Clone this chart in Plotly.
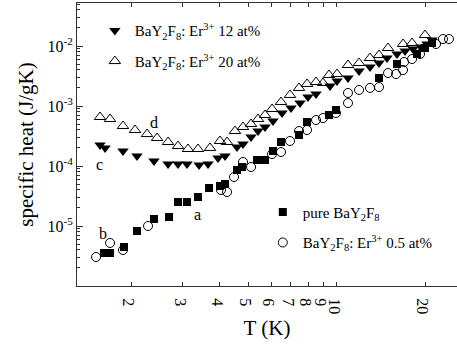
import plotly.graph_objects as go

# Specific heat of BaY2F8 crystals, pure and Er3+-doped
T_12 = [1.569, 1.632, 1.878, 2.096, 2.394, 2.673, 2.890, 3.101, 3.407, 3.656, 3.953, 4.176,
        4.587, 4.808, 5.120, 5.408, 5.713, 6.081, 6.526, 7.002, 7.514, 7.998, 8.517, 9.505,
        10.04, 10.94, 11.93, 13.0, 13.95, 14.85, 16.06, 17.10, 18.20, 19.38, 20.32, 21.13]
C_12 = [2.24e-4, 2.0e-4, 1.78e-4, 1.47e-4, 1.21e-4, 1.08e-4, 1.08e-4, 1.08e-4, 1.04e-4, 1.08e-4,
        1.36e-4, 1.47e-4, 2.07e-4, 2.33e-4, 3.04e-4, 3.83e-4, 4.47e-4, 5.62e-4, 7.64e-4, 9.26e-4,
        1.12e-3, 1.41e-3, 1.58e-3, 2.15e-3, 2.61e-3, 2.93e-3, 3.83e-3, 4.47e-3, 5.21e-3, 6.31e-3,
        7.36e-3, 8.25e-3, 8.91e-3, 9.62e-3, 1.08e-2, 1.259e-2]

T_20 = [1.569, 1.697, 1.878, 2.064, 2.267, 2.452, 2.673, 2.890, 3.125, 3.380, 3.713, 4.015,
        4.242, 4.516, 4.808, 5.120, 5.408, 5.713, 6.035, 6.475, 6.947, 7.455, 7.937, 8.517,
        8.997, 9.43, 10.04, 10.94, 11.93, 13.0, 13.95, 14.97, 16.84, 18.07, 20.0]
C_20 = [6.56e-4, 6.07e-4, 4.64e-4, 3.98e-4, 3.41e-4, 2.93e-4, 2.51e-4, 2.15e-4, 1.92e-4, 1.92e-4,
        2.0e-4, 2.61e-4, 2.51e-4, 3.83e-4, 4.47e-4, 5.01e-4, 6.07e-4, 7.08e-4, 8.91e-4, 1.166e-3,
        1.53e-3, 2.0e-3, 2.33e-3, 2.51e-3, 2.42e-3, 3.29e-3, 3.41e-3, 4.82e-3, 5.21e-3, 6.31e-3,
        7.08e-3, 9.26e-3, 1.08e-2, 1.122e-2, 1.525e-2]

T_pure = [1.619, 1.697, 1.893, 2.096, 2.394, 2.694, 2.890, 3.101, 3.380, 3.685, 4.015, 4.176,
          4.587, 4.771, 5.366, 5.713, 6.081, 6.475, 7.455, 7.937, 9.43, 9.961, 13.95, 16.06,
          18.79, 20.0, 21.13]
C_pure = [3.55e-6, 3.55e-6, 4.47e-6, 8.25e-6, 1.31e-5, 1.41e-5, 2.51e-5, 2.51e-5, 3.04e-5, 4.30e-5,
          4.64e-5, 5.01e-5, 8.58e-5, 9.62e-5, 1.26e-4, 1.26e-4, 1.78e-4, 2.51e-4, 3.29e-4, 5.41e-4,
          7.08e-4, 8.58e-4, 2.93e-3, 5.01e-3, 7.36e-3, 9.26e-3, 1.122e-2]

T_05 = [1.521, 1.697, 1.878, 2.285, 4.047, 4.242, 4.481, 4.808, 5.120, 6.035, 6.475, 6.947,
        7.455, 7.937, 8.517, 8.997, 9.961, 10.94, 10.94, 11.93, 13.0, 13.95, 14.97, 15.94,
        16.84, 16.97, 18.07, 19.23, 21.80, 23.02, 24.13]
C_05 = [3.04e-6, 5.21e-6, 3.98e-6, 1.0e-5, 3.98e-5, 3.69e-5, 6.56e-5, 1.166e-4, 9.62e-5, 1.58e-4,
        1.71e-4, 2.61e-4, 3.83e-4, 3.98e-4, 5.84e-4, 6.31e-4, 7.64e-4, 1.65e-3, 1.12e-3, 1.85e-3,
        2.0e-3, 2.07e-3, 3.55e-3, 3.41e-3, 3.98e-3, 5.41e-3, 6.07e-3, 7.36e-3, 1.08e-2, 1.308e-2,
        1.308e-2]

X_TICKS = [2, 3, 4, 5, 6, 7, 8, 9, 10, 20]
Y_TICKS = [1e-6, 1e-5, 1e-4, 1e-3, 1e-2]
Y_TICKTEXT = ["", "10<sup>-5</sup>", "10<sup>-4</sup>", "10<sup>-3</sup>", "10<sup>-2</sup>"]

LBL_12 = "BaY<sub>2</sub>F<sub>8</sub>: Er<sup>3+</sup> 12 at%"
LBL_20 = "BaY<sub>2</sub>F<sub>8</sub>: Er<sup>3+</sup> 20 at%"
LBL_PURE = "pure BaY<sub>2</sub>F<sub>8</sub>"
LBL_05 = "BaY<sub>2</sub>F<sub>8</sub>: Er<sup>3+</sup> 0.5 at%"

SERIF = "Liberation Serif, Times New Roman, serif"
INK = "black"

fig = go.Figure()
fig.add_trace(go.Scatter(x=T_12, y=C_12, mode="markers", name=LBL_12, legend="legend",
                         legendgroup="a",
                         marker=dict(symbol="triangle-down", size=10, color=INK)))
fig.add_trace(go.Scatter(x=T_20, y=C_20, mode="markers", name=LBL_20, legend="legend",
                         legendgroup="b",
                         marker=dict(symbol="triangle-up-open", size=10, color=INK,
                                     line=dict(width=1, color=INK))))
fig.add_trace(go.Scatter(x=T_pure, y=C_pure, mode="markers", name=LBL_PURE, legend="legend2",
                         legendgroup="c",
                         marker=dict(symbol="square", size=8, color=INK)))
fig.add_trace(go.Scatter(x=T_05, y=C_05, mode="markers", name=LBL_05, legend="legend2",
                         legendgroup="d",
                         marker=dict(symbol="circle-open", size=9, color=INK,
                                     line=dict(width=1, color=INK))))

# curve labels
for txt, lx, ly in [("a", 0.5255, -4.80), ("b", 0.2058, -5.133),
                    ("c", 0.1922, -3.983), ("d", 0.3792, -3.267)]:
    fig.add_annotation(x=lx, y=ly, xref="x", yref="y", text=txt, showarrow=False,
                       font=dict(family=SERIF, size=16, color=INK))

legend_common = dict(font=dict(family=SERIF, size=15, color=INK), bgcolor="rgba(0,0,0,0)",
                     borderwidth=0, xanchor="left", yanchor="top", tracegroupgap=8,
                     itemsizing="trace", itemwidth=30)

fig.update_layout(
    width=457, height=347,
    margin=dict(l=77, r=0, t=3, b=61),
    paper_bgcolor="white", plot_bgcolor="white",
    font=dict(family=SERIF, color=INK),
    showlegend=True,
    legend=dict(x=0.047, y=0.96, **legend_common),
    legend2=dict(x=0.489, y=0.319, **legend_common),
    xaxis=dict(
        type="log", range=[0.1173, 1.4098],
        tickvals=X_TICKS, ticktext=[str(v) for v in X_TICKS],
        ticks="inside", ticklen=4, tickcolor="#333", showline=True, linecolor="#333",
        linewidth=1, mirror="ticks", showgrid=False, zeroline=False,
        tickfont=dict(family=SERIF, size=16, color=INK),
        title=dict(text="T (K)", font=dict(family=SERIF, size=21, color=INK), standoff=7),
    ),
    yaxis=dict(
        type="log", range=[-6.0, -1.283],
        tickvals=Y_TICKS, ticktext=Y_TICKTEXT,
        ticks="inside", ticklen=6, tickcolor="#333", showline=True, linecolor="#333",
        linewidth=1, mirror=False, showgrid=False, zeroline=False,
        tickfont=dict(family=SERIF, size=16, color=INK),
        minor=dict(ticks="inside", ticklen=3, tickcolor="#333", dtick="D1", showgrid=False),
        title=dict(text="specific heat (J/gK)", font=dict(family=SERIF, size=21, color=INK),
                   standoff=8),
    ),
)

fig.write_html("out.html")
